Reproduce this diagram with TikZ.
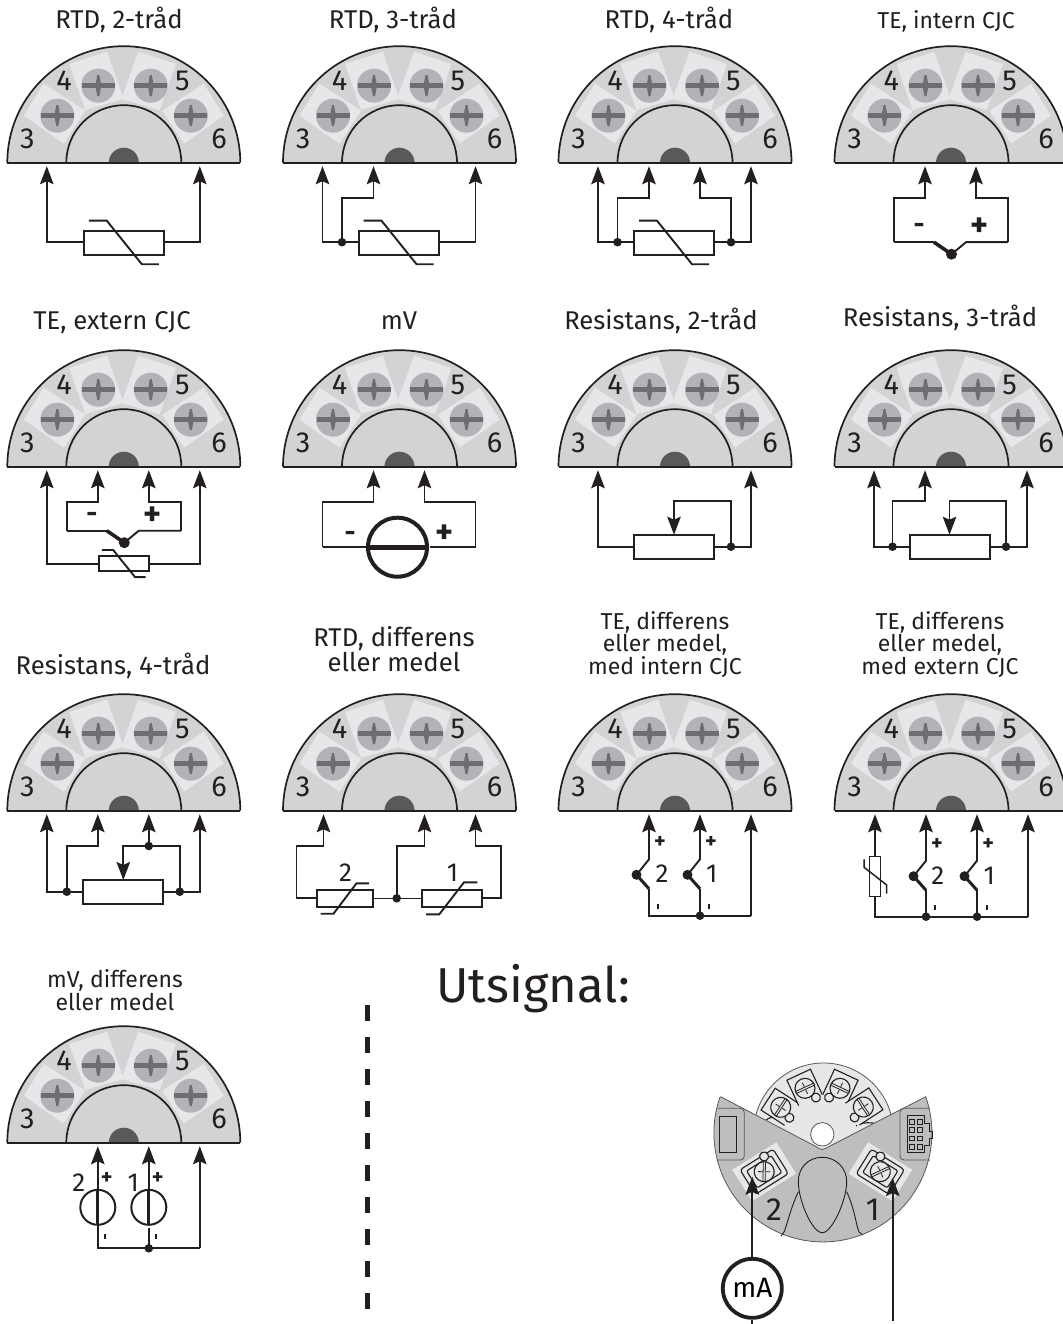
\documentclass[tikz,border=0pt]{standalone}
\usepackage{fontspec}
\setmainfont{Fira Sans}
\usetikzlibrary{arrows.meta}
\definecolor{ink}{HTML}{231F20}
\definecolor{blockgray}{HTML}{D1D3D4}
\definecolor{lightgray}{HTML}{E6E7E8}
\definecolor{screwgray}{HTML}{B1B3B6}
\definecolor{slitgray}{HTML}{6D6E71}
\definecolor{darkgray}{HTML}{58595B}
\definecolor{sectorgray}{HTML}{BCBEC0}
\tikzset{
  wire/.style={draw=ink,line width=1.9pt,line join=miter},
  arr/.style={wire,-{Stealth[length=18pt,width=13.5pt,inset=3pt]}},
  resbox/.style={draw=ink,line width=2pt,fill=white},
  junction/.style={fill=ink,draw=none},
  digit/.style={font=\fontsize{29}{29}\selectfont,text=ink,inner sep=0pt},
  lab/.style={font=\fontsize{23}{22.5}\selectfont,text=ink,inner sep=0pt,anchor=base,align=center},
  labwide/.style={lab,font=\fontsize{25.7}{23}\selectfont},
  sign/.style={font=\fontsize{27}{27}\selectfont\bfseries,text=ink,inner sep=0pt},
  plussign/.style={font=\fontsize{34}{34}\selectfont\bfseries,text=ink,inner sep=0pt},
  smallsign/.style={font=\fontsize{22}{22}\selectfont\bfseries,text=ink,inner sep=0pt},
  small/.style={font=\fontsize{26}{26}\selectfont,text=ink,inner sep=0pt},
}
% one screw of the terminal block
\newcommand{\screw}[2]{%
  \fill[screwgray] (#1,#2) circle[radius=17];
  \fill[slitgray] (#1-16.5,#2-2.7) rectangle (#1+16.5,#2+2.7);
  \fill[slitgray] (#1-1,#2-10.5) -- (#1+1,#2-10.5) -- (#1+3,#2) -- (#1+1,#2+10.5) -- (#1-1,#2+10.5) -- (#1-3,#2) -- cycle;
}
% terminal block: #1 name prefix
\newcommand{\block}[1]{%
  \fill[blockgray] (-116.5,0) arc[start angle=180,end angle=360,radius=116.5] -- cycle;
  \fill[lightgray] (-100,-47) -- (-80,-79) -- (-38.5,-52) -- (-60,-19) -- cycle;
  \fill[lightgray] (-54.5,-98.7) -- (-16.8,-111) -- (-0.2,-63.7) -- (-38.5,-52.7) -- cycle;
  \fill[lightgray] (100,-47) -- (80,-79) -- (38.5,-52) -- (60,-19) -- cycle;
  \fill[lightgray] (14.5,-111) -- (52,-98.7) -- (36,-52.7) -- (-2.5,-63.7) -- cycle;
  \screw{-66.5}{-47}\screw{-25.5}{-77}\screw{27}{-77}\screw{67}{-47}
  \draw[ink,line width=1.7pt] (-116.5,0) arc[start angle=180,end angle=360,radius=116.5];
  \draw[ink,line width=1.7pt] (-57.5,0) arc[start angle=180,end angle=360,radius=57.5];
  \fill[darkgray] (-15,0) arc[start angle=180,end angle=360,radius=15] -- cycle;
  \draw[ink,line width=2.2pt] (-116.5,0) -- (116.5,0);
  \node[digit] (#1d3) at (-96.5,-23.4) {3};
  \node[digit] (#1d4) at (-59.8,-81.7) {4};
  \node[digit] (#1d5) at (58.5,-81.7) {5};
  \node[digit] (#1d6) at (95.2,-23.4) {6};
  \coordinate (a) at (-77,3.5);
  \coordinate (b) at (-26,3.5);
  \coordinate (c) at (25,3.5);
  \coordinate (d) at (76,3.5);
}
% resistor with falling NTC stroke: centre x,y, scale
\newcommand{\rtdsym}[3]{%
  \begin{scope}[shift={(#1,#2)},scale=#3]
    \draw[resbox] (-40,-12) rectangle (40,12);
    \draw[wire] (-35,-22) -- (-17,-22) -- (18,21.5) -- (35,21.5);
  \end{scope}
}
\newcommand{\potsym}[2]{%
  \draw[resbox] (#1-40,#2-12) rectangle (#1+40,#2+12);
}
\newcommand{\dotat}[3][4.3]{\fill[junction] (#2,#3) circle[radius=#1];}
% thermocouple fork: bottom of the box at y=#1, signs named #2
\newcommand{\tcsym}[2]{%
  \draw[arr] (-57,#1) |- (-26,35) -- (b);
  \draw[arr] (57,#1) |- (25,35) -- (c);
  \draw[wire] (-57,#1) -- (-42,#1);
  \draw[wire] (57,#1) -- (15,#1) -- (0.5,#1+12);
  \draw[ink,line width=2.4pt] (-42,#1) -- (-17,#1);
  \draw[ink,line width=3.6pt] (-17,#1) -- (0.5,#1+12);
  \fill[junction] (0.5,#1+12) circle[radius=5.5];
  \node[sign] (#2m) at (-32,#1-13.5) {-};
  \node[plussign] (#2p) at (29,#1-15) {+};
}
\newcommand{\fork}[3]{% x, top y, arrow coordinate
  \draw[arr] (#1-12.5,#2+15.5) -- (#1,#2) -- (#3);
  \draw[ink,line width=3pt] (#1-12.5,#2+15.5) -- (#1,#2+29.5);
  \draw[wire] (#1,#2+29.5) -- (#1,104.5);
  \fill[junction] (#1-12.5,#2+15.5) circle[radius=5];
}
\newcommand{\tick}[2]{\fill[ink] (#1-1,#2-2.5) rectangle (#1+1,#2+2.5);}
% mini terminal of the output head
\newcommand{\minitab}[4]{% x,y,rotate,loop side
  \begin{scope}[shift={(#1,#2)},rotate=#3]
    \fill[lightgray] (-13,15) rectangle (13,-15);
    \draw[ink,line width=1.1pt] (-13,13) -- (-13,-15) -- (13,-15) -- (13,13);
    \draw[ink,line width=1.1pt,fill=lightgray] (#4,13) circle[radius=4.5];
    \draw[ink,line width=1.1pt,fill=lightgray] (0,0) circle[radius=10];
    \draw[ink,line width=.8pt] (-10,-1.1) -- (10,-1.1) (-10,1.1) -- (10,1.1) (0,-6) -- (0,-2) (0,2) -- (0,6);
  \end{scope}
}
\newcommand{\lowertab}[4]{% x,y,rotate,loop x
  \begin{scope}[shift={(#1,#2)},rotate=#3]
    \fill[lightgray] (-26,-18.5) rectangle (26,18.5);
    \draw[ink,line width=1.1pt,rounded corners=3pt] (-19.5,-14.5) rectangle (19.5,14.5);
    \draw[ink,line width=1.1pt,rounded corners=2pt] (-14.5,-10) rectangle (14.5,10);
    \draw[ink,line width=1.1pt,fill=lightgray] (#4,-13) circle[radius=4.5];
    \draw[ink,line width=1.1pt,fill=lightgray] (0,0) circle[radius=10];
    \begin{scope}[rotate=57]
      \draw[ink,line width=.8pt] (-10,-1.1) -- (10,-1.1) (-10,1.1) -- (10,1.1) (0,-6) -- (0,-2) (0,2) -- (0,6);
    \end{scope}
  \end{scope}
}
\begin{document}
\begin{tikzpicture}[x=1pt,y=-1pt]
\useasboundingbox (0,0) rectangle (1062,1324);
% ---------- labels
\node[labwide] (l1) at (119,28.5) {RTD, 2-tråd};
\node[labwide] (l2) at (393,28.5) {RTD, 3-tråd};
\node[labwide] (l3) at (669,28.5) {RTD, 4-tråd};
\node[lab] (l4) at (946,28.5) {TE, intern CJC};
\node[labwide] (l5) at (112,329) {TE, extern CJC};
\node[labwide] (l6) at (399,329) {mV};
\node[labwide] (l7) at (661,329) {Resistans, 2-tråd};
\node[labwide] (l8) at (940,326) {Resistans, 3-tråd};
\node[labwide] (l9) at (113,674) {Resistans, 4-tråd};
\node[labwide] (l10) at (394,671) {RTD, differens\\eller medel};
\node[lab] (l11) at (665,674) {TE, differens\\eller medel,\\med intern CJC};
\node[lab] (l12) at (940,674) {TE, differens\\eller medel,\\med extern CJC};
\node[lab] (l13) at (115,1010) {mV, differens\\eller medel};
\node[font=\fontsize{49}{49}\selectfont,text=ink,inner sep=0pt,anchor=base west] (utsignal) at (436,1002.7) {Utsignal:};
% ---------- divider
\draw[ink,line width=5pt,dash pattern=on 16pt off 16pt] (367.7,1005) -- (367.7,1310);
% ---------- row 1
\begin{scope}[shift={(123.8,162.7)}]
  \block{p1}
  \draw[arr] (-40,79.5) -| (a);
  \draw[arr] (40,79.5) -| (d);
  \rtdsym{0}{80}{1}
\end{scope}
\begin{scope}[shift={(399.5,162.7)}]
  \block{p2}
  \draw[arr] (-41,79.5) -| (a);
  \draw[arr] (39,79.5) -| (d);
  \draw[arr] (-57.5,79.5) |- (-26,35) -- (b);
  \dotat{-57.5}{79.5}
  \rtdsym{-1}{80}{1}
\end{scope}
\begin{scope}[shift={(675,162.7)}]
  \block{p3}
  \draw[arr] (-41,79.5) -| (a);
  \draw[arr] (39,79.5) -| (d);
  \draw[arr] (-57.5,79.5) |- (-26,35) -- (b);
  \draw[arr] (56,79.5) |- (25,35) -- (c);
  \dotat{-57.5}{79.5}\dotat{56}{79.5}
  \rtdsym{-1}{80}{1}
\end{scope}
\begin{scope}[shift={(951,162.7)}]
  \block{p4}
  \tcsym{79.5}{s4}
\end{scope}
% ---------- row 2
\begin{scope}[shift={(123.8,466.7)}]
  \block{p5}
  \tcsym{64}{s5}
  \draw[arr] (-25,97) -| (a);
  \draw[arr] (25,97) -| (d);
  \rtdsym{0}{97}{.625}
\end{scope}
\begin{scope}[shift={(399.5,466.7)}]
  \block{p6}
  \draw[arr] (-77,80.5) |- (-26,35) -- (b);
  \draw[arr] (76,80.5) |- (25,35) -- (c);
  \draw[wire] (-77,80.5) -- (-30,80.5);
  \draw[wire] (76,80.5) -- (30,80.5);
  \draw[ink,line width=4pt,fill=white] (-2,80.5) circle[radius=29.5];
  \draw[ink,line width=5pt] (-31,80.5) -- (27,80.5);
  \node[sign] (s6m) at (-49.5,69.3) {-};
  \node[plussign] (s6p) at (45.5,67.3) {+};
\end{scope}
\begin{scope}[shift={(675,466.7)}]
  \block{p7}
  \draw[arr] (-41,80) -| (a);
  \draw[arr] (39,80) -| (d);
  \potsym{-1}{80}
  \draw[arr] (56,80) |- (-1,34.5) -- (-1,68);
  \dotat{56}{80}
\end{scope}
\begin{scope}[shift={(951,466.7)}]
  \block{p8}
  \draw[arr] (-41,80) -| (a);
  \draw[arr] (38,80) -| (d);
  \draw[arr] (-58.5,80) |- (-26,34) -- (b);
  \potsym{-1.5}{80}
  \draw[arr] (55,80) |- (-1.5,34) -- (-1.5,68);
  \dotat{-58.5}{80}\dotat{55}{80}
\end{scope}
% ---------- row 3
\begin{scope}[shift={(123.8,810.7)}]
  \block{p9}
  \draw[arr] (-40,81) -| (a);
  \draw[arr] (40,81) -| (d);
  \draw[arr] (-57,81) |- (-26,35.3) -- (b);
  \potsym{-0.5}{81}
  \draw[arr] (56,81) |- (-0.5,35.3) -- (-0.5,69.3);
  \draw[arr] (25,35.3) -- (c);
  \dotat{-57}{81}\dotat{56}{81}\dotat{25}{35.3}
\end{scope}
\begin{scope}[shift={(399.5,810.7)}]
  \block{p10}
  \draw[arr] (-83,87.6) -| (-103,35.3) -| (-76,3.5);
  \draw[arr] (82,87.6) -| (101.5,35.3) -| (76,3.5);
  \draw[arr] (-2.8,87.6) |- (25,35.3) -- (c);
  \draw[ink,line width=1.2pt] (-27,87.6) -- (23,87.6);
  \dotat{-2.8}{87.6}
  \draw[resbox] (-82.8,79.3) rectangle (-26.8,96);
  \draw[resbox] (22.5,79) rectangle (82.2,96.6);
  \draw[wire] (-79,103) -- (-66,103) -- (-43,72.6) -- (-30.5,72.6);
  \draw[wire] (26.5,103.6) -- (39.8,103.6) -- (64.5,71.6) -- (77.8,71.6);
  \node[small] (p10n2) at (-54,62) {2};
  \node[small] (p10n1) at (53,62) {1};
\end{scope}
\begin{scope}[shift={(675,810.7)}]
  \block{p11}
  \draw[wire] (-26,104.5) -- (-26,105) -- (76,105);
  \draw[arr] (76,105) -- (d);
  \fork{-26}{48.6}{b}
  \fork{25}{48.6}{c}
  \dotat{25}{105}
  \node[smallsign] (s11a) at (-15,32) {+};
  \node[smallsign] (s11b) at (36,32) {+};
  \tick{-16.7}{95.6}\tick{34}{95.6}
  \node[small] (p11n2) at (-13,63.3) {2};
  \node[small] (p11n1) at (36.7,63.3) {1};
\end{scope}
\begin{scope}[shift={(951,810.7)}]
  \block{p12}
  \coordinate (aa) at (-76,3.5); \coordinate (bb) at (-25,3.5);
  \coordinate (cc) at (26,3.5); \coordinate (dd) at (77,3.5);
  \draw[wire] (-76,86) |- (77,106);
  \draw[arr] (77,106) -- (dd);
  \draw[arr] (-76,46) -- (aa);
  \fork{-25}{50}{bb}
  \fork{26}{50}{cc}
  \draw[wire] (-25,104) -- (-25,106) (26,104) -- (26,106);
  \draw[wire,line width=1.5pt,fill=white] (-81.5,46) rectangle (-70.5,86);
  \draw[wire,line width=1.5pt] (-87,48.6) -- (-87,56.6) -- (-64.3,74.3) -- (-64.3,83);
  \dotat{-25}{106}\dotat{26}{106}
  \node[smallsign] (s12a) at (-14,33.6) {+};
  \node[smallsign] (s12b) at (37.3,33.6) {+};
  \tick{-16}{96.6}\tick{35.7}{96.6}
  \node[small] (p12n2) at (-13.3,65.3) {2};
  \node[small] (p12n1) at (38.3,65.3) {1};
\end{scope}
% ---------- row 4
\begin{scope}[shift={(123.8,1142.7)}]
  \block{p13}
  \draw[wire] (-26,85) |- (76,105.6);
  \draw[arr] (76,105.6) -- (d);
  \draw[wire] (25,85) -- (25,105.6);
  \draw[wire] (-26,60) -- (-26,85);
  \draw[ink,line width=2pt] (-26,64.6) circle[radius=17.5];
  \draw[ink,line width=2pt] (25,64.6) circle[radius=17.5];
  \draw[ink,line width=3pt] (-26,47) -- (-26,82);
  \draw[ink,line width=3pt] (25,47) -- (25,82);
  \draw[arr] (-26,47) -- (b);
  \draw[arr] (25,47) -- (c);
  \dotat{25}{105.6}
  \node[smallsign] (s13a) at (-17,36) {+};
  \node[smallsign] (s13b) at (34,36) {+};
  \tick{-18.8}{93.3}\tick{32}{93.3}
  \node[small] (p13n2) at (-45,39.6) {2};
  \node[small] (p13n1) at (9.5,39.6) {1};
\end{scope}
% ---------- output head
\fill[lightgray,draw=darkgray,line width=.8pt] (823.5,1133) circle[radius=70];
\draw[ink,line width=1.1pt,fill=lightgray] (766,1120) arc[start angle=200,end angle=340,x radius=13,y radius=5];
\draw[ink,line width=1.1pt,fill=lightgray] (856,1126) arc[start angle=200,end angle=340,x radius=13,y radius=5];
\minitab{780.7}{1107.3}{57}{-4}
\minitab{805}{1088.3}{25}{6}
\minitab{840}{1088.3}{-25}{-6}
\minitab{863.3}{1107}{-57}{4}
\draw[darkgray,line width=.8pt,fill=white] (822.3,1134.3) circle[radius=11.7];
\draw[darkgray,line width=.8pt,fill=sectorgray]
  (720.7,1096.7) -- (815,1146) .. controls (822,1150.5) .. (830,1146) -- (925.7,1096.7)
  arc[start angle=-19.4,end angle=199.4,radius=109] ;
\draw[darkgray,line width=.8pt,rounded corners=4pt] (718,1108.3) -- (744.3,1108.3) -- (744.3,1160) -- (716.5,1160);
\draw[ink,line width=.9pt] (719.3,1116) rectangle (736.7,1152.3);
\draw[darkgray,line width=.8pt,rounded corners=4pt] (930,1108.3) -- (900,1108.3) -- (900,1160) -- (930,1160);
\draw[ink,line width=.9pt] (907.3,1115) -- (924,1115) -- (924,1123) -- (929,1123) -- (929,1131) -- (932,1131) -- (932,1138) -- (929,1138) -- (929,1145) -- (924,1145) -- (924,1152) -- (907.3,1152) -- cycle;
\foreach \gy in {1121.7,1130,1138.3,1146.7}{
  \foreach \gx in {911.7,920}{
    \draw[ink,line width=.7pt] (\gx-2.2,\gy-2.2) rectangle (\gx+2.2,\gy+2.2);
  }
}
\lowertab{764.2}{1171.7}{32}{8}
\lowertab{880.3}{1171.7}{-32}{-8}
\draw[ink,line width=.9pt,fill=sectorgray] (822.3,1157.3) .. controls (836,1157.3) and (846.7,1168) .. (846.7,1181.7) .. controls (846.7,1200) and (832,1232.7) .. (822.3,1232.7) .. controls (812,1232.7) and (798.3,1200) .. (798.3,1181.7) .. controls (798.3,1168) and (808,1157.3) .. cycle;
\draw[ink,line width=.9pt] (798.3,1191.7) .. controls (790,1210) and (787,1225) .. (784,1232) -- (781,1236);
\draw[ink,line width=.9pt] (846.7,1191.7) .. controls (855,1210) and (856,1225) .. (859,1232) -- (863,1235);
\node[small,font=\fontsize{32}{32}\selectfont] (o2) at (774,1209.3) {2};
\node[small,font=\fontsize{32}{32}\selectfont] (o1) at (872.7,1209.3) {1};
% mA meter and wires
\node[draw=ink,line width=3.8pt,circle,minimum size=59pt,inner sep=0pt,fill=white,font=\fontsize{28}{28}\selectfont] (mA) at (752.3,1288.3) {mA};
\coordinate (t2) at (752.3,1176.7);
\coordinate (t1) at (892.7,1178);
\coordinate (e1) at (892.7,1321);
\coordinate (e2) at (752.3,1324);
\draw[arr] (mA) -- (t2);
\draw[wire] (mA) -- (e2);
\draw[arr] (e1) -- (t1);
\end{tikzpicture}
\end{document}
